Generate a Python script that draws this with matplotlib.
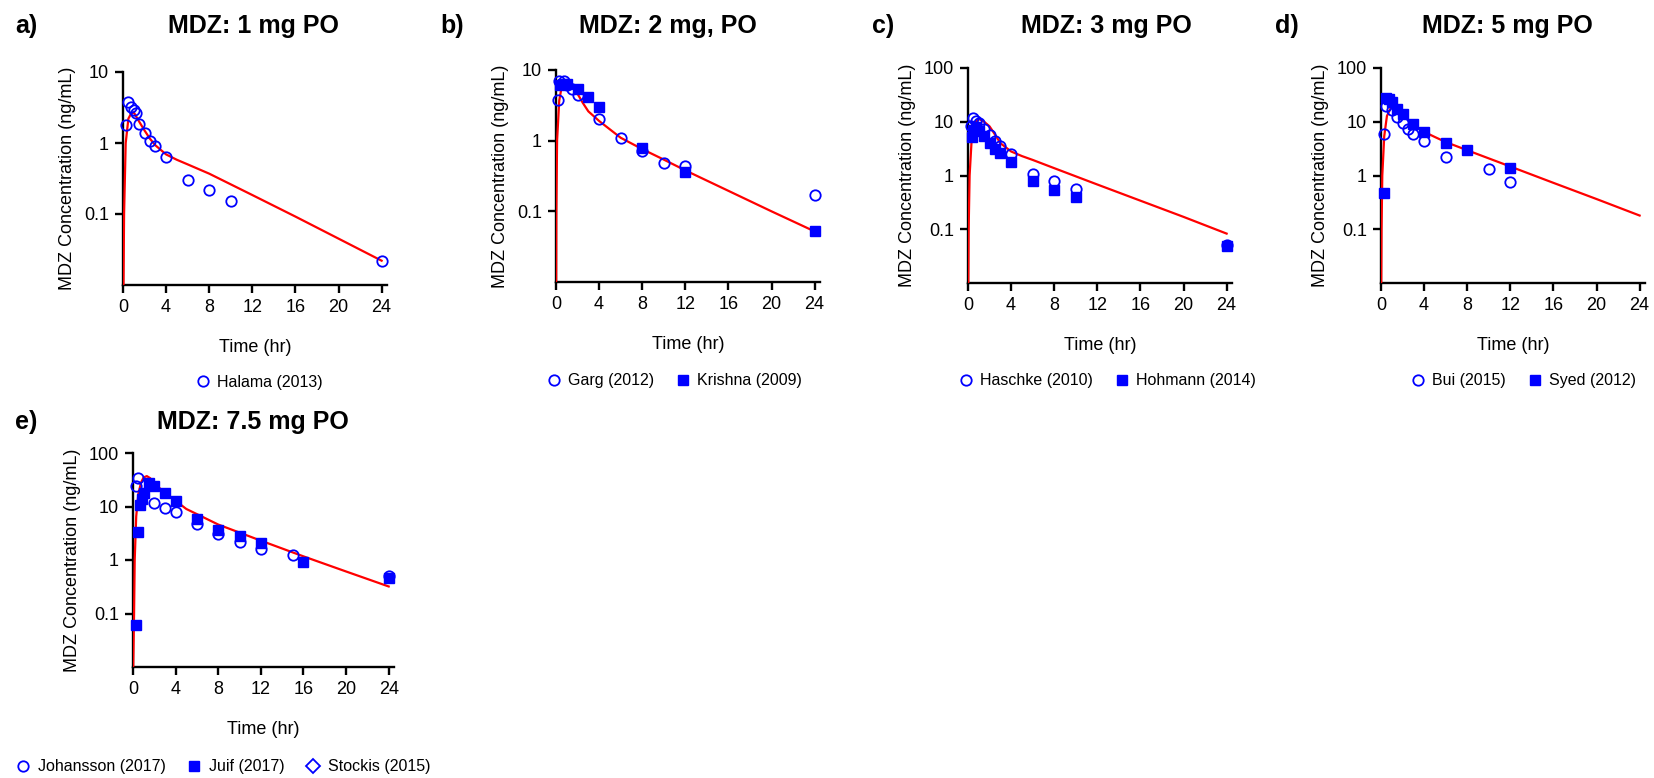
import numpy as np
import matplotlib
matplotlib.use('Agg')
import matplotlib.pyplot as plt

plt.rcParams['font.family'] = ['Liberation Sans', 'DejaVu Sans']

# ---- data (time in hr, conc in ng/mL) ----
# a) 1 mg PO
a_line_t = [0.03, 0.1, 0.25, 0.5, 0.75, 1, 1.5, 2, 2.5, 3, 4, 5, 6, 8, 12, 16, 20, 24]
a_line_c = [0.005, 0.1, 1.0, 2.2, 2.6, 2.7, 2.0, 1.5, 1.15, 0.93, 0.69, 0.58, 0.5, 0.37, 0.185, 0.092, 0.045, 0.022]
halama_t = [0.25, 0.5, 0.75, 1, 1.25, 1.5, 2, 2.5, 3, 4, 6, 8, 10, 24]
halama_c = [1.8, 3.8, 3.25, 2.9, 2.65, 1.85, 1.4, 1.07, 0.92, 0.64, 0.30, 0.22, 0.15, 0.022]

# b) 2 mg PO
b_line_t = [0.01, 0.03, 0.1, 0.3, 0.5, 0.75, 1, 1.5, 2, 2.5, 3, 4, 6, 8, 10, 12, 16, 20, 24]
b_line_c = [0.005, 0.1, 1.0, 3.7, 5.5, 6.4, 6.5, 5.8, 4.6, 3.4, 2.6, 1.9, 1.1, 0.76, 0.54, 0.38, 0.195, 0.10, 0.052]
garg_t = [0.2, 0.3, 0.7, 1, 1.5, 2, 4, 6, 8, 10, 12, 24]
garg_c = [3.8, 7.0, 7.0, 6.1, 5.4, 4.5, 2.05, 1.1, 0.72, 0.49, 0.44, 0.172]
krishna_t = [0.33, 0.67, 1, 2, 3, 4, 8, 12, 24]
krishna_c = [6.2, 6.3, 6.3, 5.4, 4.1, 3.0, 0.8, 0.36, 0.053]

# c) 3 mg PO
c_line_t = [0.02, 0.06, 0.15, 0.37, 0.6, 1, 1.5, 2, 2.5, 3, 4, 5, 6, 8, 12, 16, 20, 24]
c_line_c = [0.005, 0.1, 1.0, 6.0, 9.5, 11.3, 10.0, 8.2, 5.8, 4.0, 2.8, 2.3, 1.95, 1.37, 0.68, 0.34, 0.17, 0.083]
haschke_t = [0.25, 0.5, 0.75, 1, 1.5, 2, 2.5, 3, 4, 6, 8, 10, 24]
haschke_c = [8.5, 11.9, 10.3, 9.3, 7.4, 5.6, 4.35, 3.5, 2.5, 1.07, 0.79, 0.56, 0.051]
hohmann_t = [0.33, 0.5, 0.75, 1, 1.5, 2, 2.5, 3, 4, 6, 8, 10, 24]
hohmann_c = [5.2, 7.0, 8.0, 6.8, 5.5, 4.1, 3.1, 2.6, 1.75, 0.8, 0.54, 0.40, 0.049]

# d) 5 mg PO
d_line_t = [0.02, 0.05, 0.12, 0.3, 0.55, 0.9, 1.2, 1.5, 2, 3, 4, 5, 6, 8, 12, 16, 20, 24]
d_line_c = [0.01, 0.1, 1.0, 5.4, 12.8, 18, 20, 17, 13.5, 9, 6.5, 5.2, 4.2, 2.95, 1.47, 0.73, 0.365, 0.18]
bui_t = [0.25, 0.5, 1, 1.5, 2, 2.5, 3, 4, 6, 10, 12]
bui_c = [5.8, 20, 16.5, 12, 9.3, 7.4, 5.8, 4.35, 2.2, 1.3, 0.76]
syed_t = [0.25, 0.5, 0.75, 1, 1.5, 2, 3, 4, 6, 8, 12]
syed_c = [0.47, 28, 27, 23.5, 17.5, 13.8, 8.9, 6.4, 4.0, 3.0, 1.4]

# e) 7.5 mg PO
e_line_t = [0.02, 0.1, 0.16, 0.3, 0.5, 0.75, 1, 1.3, 1.6, 2, 2.5, 3, 4, 5, 6, 8, 12, 16, 20, 24]
e_line_c = [0.01, 0.1, 1.0, 6.5, 17, 28, 35, 37, 34, 27, 22, 18.5, 12.8, 9, 7.2, 4.6, 2.3, 1.17, 0.61, 0.32]
johansson_t = [0.25, 0.5, 2, 3, 4, 6, 8, 10, 12, 15, 24]
johansson_c = [24.6, 34, 11.8, 9.3, 8.0, 4.7, 3.0, 2.2, 1.6, 1.24, 0.51]
juif_t = [0.25, 0.5, 0.67, 0.83, 1, 1.5, 2, 3, 4, 6, 8, 10, 12, 16, 24]
juif_c = [0.061, 3.3, 10.5, 14, 17.5, 27.5, 24.5, 17.7, 12.7, 5.8, 3.7, 2.8, 2.1, 0.9, 0.47]
stockis_t = []
stockis_c = []

titles = ['MDZ: 1 mg PO', 'MDZ: 2 mg, PO', 'MDZ: 3 mg PO', 'MDZ: 5 mg PO', 'MDZ: 7.5 mg PO']
letters = ['a)', 'b)', 'c)', 'd)', 'e)']
x_ticks = [0, 4, 8, 12, 16, 20, 24]

BLUE = '#0000ff'
RED = '#ff0000'

W, H = 1654, 778
fig = plt.figure(figsize=(W / 100, H / 100), dpi=100)


def px_axes(left, top, right, bottom):
    return fig.add_axes([left / W, 1 - bottom / H, (right - left) / W, (bottom - top) / H])


def style_axes(ax, ytop):
    ax.set_yscale('log')
    ax.set_xlim(0, 24.5)
    ax.set_ylim(0.01, ytop)
    ax.set_xticks(x_ticks)
    yt = [0.1, 1, 10] if ytop == 10 else [0.1, 1, 10, 100]
    ax.set_yticks(yt)
    ax.set_yticklabels(['0.1', '1', '10', '100'][:len(yt)])
    ax.minorticks_off()
    for s in ['top', 'right']:
        ax.spines[s].set_visible(False)
    for s in ['left', 'bottom']:
        ax.spines[s].set_linewidth(1.7)
    ax.tick_params(axis='both', direction='out', length=6, width=1.7, labelsize=13, pad=4)
    ax.set_xlabel('Time (hr)', fontsize=13, labelpad=17)
    ax.set_ylabel('MDZ Concentration (ng/mL)', fontsize=13, labelpad=6)


def open_pts(ax, t, c, label):
    return ax.plot(t, c, 'o', ms=7.5, mfc='none', mec=BLUE, mew=1.3, label=label, zorder=4, clip_on=False)[0]


def sq_pts(ax, t, c, label):
    return ax.plot(t, c, 's', ms=6.5, mfc=BLUE, mec=BLUE, mew=1, label=label, zorder=5, clip_on=False)[0]


def add_legend(ax, handles, cx, cy):
    ax.legend(handles=handles, loc='center', bbox_to_anchor=(cx / W, 1 - cy / H),
              bbox_transform=fig.transFigure, ncol=len(handles), frameon=False,
              fontsize=11.5, handletextpad=0.3, columnspacing=1.2, handlelength=1.2,
              borderaxespad=0, borderpad=0)


# panel frames in pixel coordinates: left, top, right, bottom
ax_a = px_axes(123, 72, 387, 285)
ax_b = px_axes(556, 70, 820, 282)
ax_c = px_axes(968, 68, 1232, 283)
ax_d = px_axes(1381, 68, 1645, 283)
ax_e = px_axes(133, 453, 394, 667)

# a
ax_a.plot(a_line_t, a_line_c, color=RED, lw=1.6, zorder=3)
h1 = open_pts(ax_a, halama_t, halama_c, 'Halama (2013)')
style_axes(ax_a, 10)
add_legend(ax_a, [h1], 258, 382)

# b
ax_b.plot(b_line_t, b_line_c, color=RED, lw=1.6, zorder=3)
h1 = open_pts(ax_b, garg_t, garg_c, 'Garg (2012)')
h2 = sq_pts(ax_b, krishna_t, krishna_c, 'Krishna (2009)')
style_axes(ax_b, 10)
add_legend(ax_b, [h1, h2], 673, 381)

# c
ax_c.plot(c_line_t, c_line_c, color=RED, lw=1.6, zorder=3)
h1 = open_pts(ax_c, haschke_t, haschke_c, 'Haschke (2010)')
h2 = sq_pts(ax_c, hohmann_t, hohmann_c, 'Hohmann (2014)')
style_axes(ax_c, 100)
add_legend(ax_c, [h1, h2], 1106, 381)

# d
ax_d.plot(d_line_t, d_line_c, color=RED, lw=1.6, zorder=3)
h1 = open_pts(ax_d, bui_t, bui_c, 'Bui (2015)')
h2 = sq_pts(ax_d, syed_t, syed_c, 'Syed (2012)')
style_axes(ax_d, 100)
add_legend(ax_d, [h1, h2], 1522, 381)

# e
ax_e.plot(e_line_t, e_line_c, color=RED, lw=1.6, zorder=3)
h1 = open_pts(ax_e, johansson_t, johansson_c, 'Johansson (2017)')
h2 = sq_pts(ax_e, juif_t, juif_c, 'Juif (2017)')
h3 = ax_e.plot(stockis_t, stockis_c, 'D', ms=7, mfc='none', mec=BLUE, mew=1.3, label='Stockis (2015)')[0]
style_axes(ax_e, 100)
add_legend(ax_e, [h1, h2, h3], 222, 767)

# titles and panel letters
title_pos = [(253, 26), (668, 26), (1106, 26), (1507, 26), (253, 422)]
letter_pos = [(15, 26), (440, 26), (872, 26), (1275, 26), (15, 422)]
for t, (x, y) in zip(titles, title_pos):
    fig.text(x / W, 1 - y / H, t, ha='center', va='center', fontsize=18, fontweight='bold')
for l, (x, y) in zip(letters, letter_pos):
    fig.text(x / W, 1 - y / H, l, ha='left', va='center', fontsize=18, fontweight='bold')

fig.savefig('out.png', dpi=100)
